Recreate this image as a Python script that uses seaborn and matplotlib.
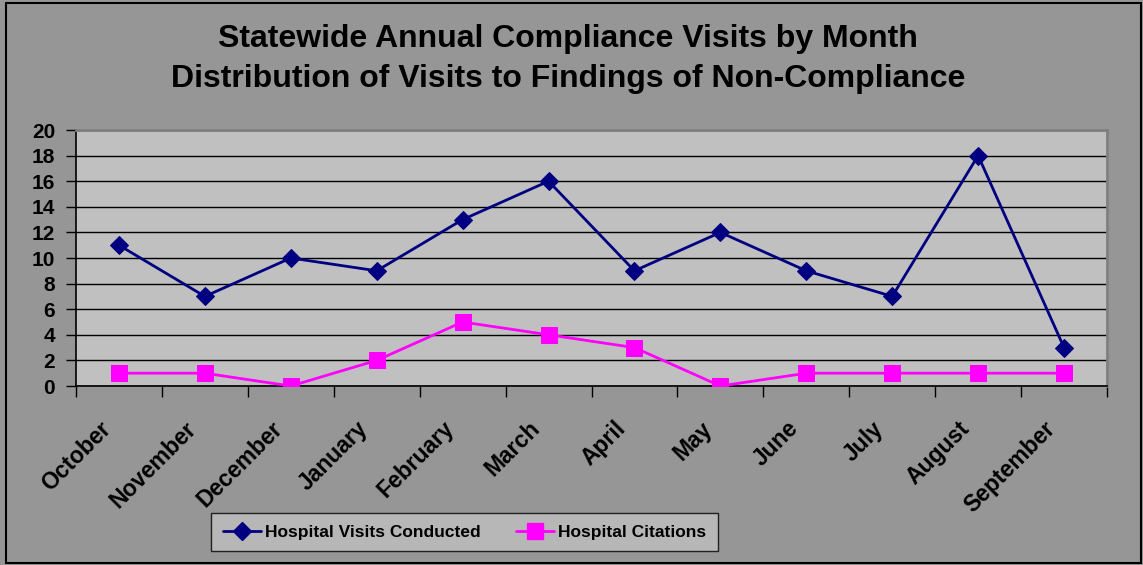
import matplotlib
matplotlib.use("Agg")
import matplotlib.pyplot as plt
import matplotlib.transforms as mtransforms
import seaborn as sns
import pandas as pd
import numpy as np
from matplotlib.patches import Rectangle
from matplotlib.lines import Line2D

months = ["October", "November", "December", "January", "February", "March",
          "April", "May", "June", "July", "August", "September"]
visits = [11, 7, 10, 9, 13, 16, 9, 12, 9, 7, 18, 3]
citations = [1, 1, 0, 2, 5, 4, 3, 0, 1, 1, 1, 1]
yticks = [0, 2, 4, 6, 8, 10, 12, 14, 16, 18, 20]
title = "Statewide Annual Compliance Visits by Month\nDistribution of Visits to Findings of Non-Compliance"
series_names = ["Hospital Visits Conducted", "Hospital Citations"]

sns.set_style("white")
plt.rcParams['font.family'] = ['Liberation Sans', 'DejaVu Sans']
for k in ["text.color", "xtick.color", "ytick.color", "axes.labelcolor"]:
    plt.rcParams[k] = "black"

fig = plt.figure(figsize=(11.43, 5.65), dpi=100, facecolor="#969696")
ax = fig.add_axes([76/1143, 1-386/565, (1107-76)/1143, (386-130)/565])
ax.set_facecolor("#c0c0c0")

df = pd.DataFrame({"month": months, "visits": visits, "citations": citations})
df["pos"] = np.arange(len(months))

sns.lineplot(data=df, x="pos", y="visits", ax=ax, color="#000080", lw=2,
             marker="D", markersize=9, markeredgecolor="#000080", zorder=4)
sns.lineplot(data=df, x="pos", y="citations", ax=ax, color="#ff00ff", lw=2,
             marker="s", markersize=11.5, markeredgecolor="#ff00ff", zorder=4)

ax.set_xlim(-0.5, len(months) - 0.5)
ax.set_ylim(0, 20)
ax.set_yticks(yticks)
ax.set_yticklabels([str(v) for v in yticks], fontsize=15, fontweight="bold")
ax.yaxis.grid(True, color="black", lw=1)
ax.set_axisbelow(True)
ax.tick_params(axis="y", direction="out", length=7, width=1, color="black", pad=8, left=True)

ax.set_xticks(np.arange(len(months)))
ax.set_xticklabels([])
ax.tick_params(axis="x", which="major", length=0)
ax.set_xticks(np.arange(-0.5, len(months)), minor=True)
ax.tick_params(axis="x", which="minor", direction="out", length=8, width=1, color="black", bottom=True)
ax.set_xlabel("")
ax.set_ylabel("")

label_tf = ax.get_xaxis_transform() + mtransforms.ScaledTranslation(-20/100, -31/100, fig.dpi_scale_trans)
for i, m in enumerate(months):
    ax.text(i, 0, m, transform=label_tf, rotation=45, ha="right", va="top",
            rotation_mode="anchor", fontsize=16.5, fontweight="bold", clip_on=False)

for s in ["left", "bottom"]:
    ax.spines[s].set_color("black")
    ax.spines[s].set_linewidth(1.2)
for s in ["top", "right"]:
    ax.spines[s].set_color("#808080")
    ax.spines[s].set_linewidth(2)
    ax.spines[s].set_visible(True)

fig.text(568/1143, 1-59/565, title, ha="center", va="center", fontsize=23,
         fontweight="bold", linespacing=1.4)

handles = [Line2D([], [], color="#000080", lw=2, marker="D", markersize=9),
           Line2D([], [], color="#ff00ff", lw=2, marker="s", markersize=11)]
leg = fig.legend(handles, series_names, loc="center",
                 bbox_to_anchor=(464.5/1143, 1-532/565), ncol=2, frameon=True,
                 fancybox=False, facecolor="#c0c0c0", edgecolor="black",
                 prop={"weight": "bold", "size": 12.5},
                 handlelength=2.2, handletextpad=0.25, columnspacing=2.0, borderpad=0.65,
                 borderaxespad=0)
leg.get_frame().set_linewidth(1)

fig.patches.append(Rectangle((6/1143, 2/565), (1141-6)/1143, (563-3)/565,
                             transform=fig.transFigure, fill=False,
                             edgecolor="black", lw=1.5))

fig.savefig("out.png", dpi=100, facecolor=fig.get_facecolor())
